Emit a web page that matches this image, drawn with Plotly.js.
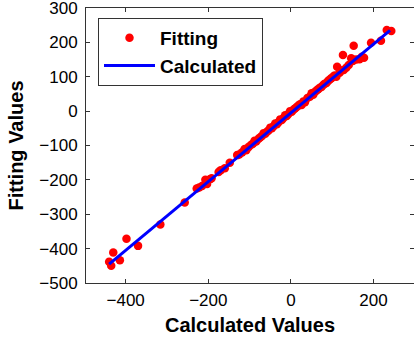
<!DOCTYPE html>
<html>
<head>
<meta charset="utf-8">
<script src="https://cdn.plot.ly/plotly-3.0.1.min.js"></script>
<style>html,body{margin:0;padding:0;background:#fff;}#chart{width:414px;height:341px;}</style>
</head>
<body>
<div id="chart"></div>
<script>
// Fitting points: calculated value (x) vs fitting value (y)
const calculated = [-440,-435,-430,-414,-398,-370,-316,-257,-228,-222,-215,-207,-203,-196,-192,-175,-170,-160,-148,-130,-125,-118,-112,-108,-102,-96,-92,-88,-84,-78,-74,-70,-66,-62,-58,-54,-50,-46,-42,-38,-34,-30,-26,-22,-18,-14,-10,-6,-2,2,6,10,14,18,22,26,30,34,40,46,50,54,58,62,66,70,74,78,82,86,90,94,98,102,106,110,112,118,122,126,128,134,140,146,150,152,158,166,172,177,194,218,232,243];
const fitting = [-438,-450,-411,-434,-371,-392,-330,-266,-225,-222,-218,-200,-212,-198,-195,-177,-172,-166,-150,-128,-126,-120,-110,-114,-104,-98,-95,-86,-88,-80,-76,-72,-64,-66,-60,-56,-48,-50,-44,-36,-38,-32,-24,-26,-20,-12,-14,-8,0,-2,4,8,12,16,20,18,28,26,38,42,52,48,56,60,64,68,70,76,80,82,88,92,96,100,104,100,129,112,118,163,120,126,134,154,146,190,150,151,158,155,199,205,236,233];
// Calculated line end points
const lineX = [-440, 240];
const lineY = [-445, 235];
const xTicks = [-400, -200, 0, 200];
const yTicks = [-500, -400, -300, -200, -100, 0, 100, 200, 300];

const font = "Arial, 'Liberation Sans', sans-serif";
const traces = [
  {x: calculated, y: fitting, mode: 'markers', type: 'scatter', name: 'Fitting',
   marker: {color: '#ff0000', size: 8.5}},
  {x: lineX, y: lineY, mode: 'lines', type: 'scatter', name: 'Calculated',
   line: {color: '#0000ff', width: 3}}
];
const axisCommon = {
  showgrid: false, zeroline: false, showline: true, mirror: 'ticks',
  linecolor: '#333', linewidth: 1, ticks: 'inside', ticklen: 4, tickcolor: '#333',
  ticklabeloverflow: 'allow',
  tickfont: {family: font, size: 17, color: '#000'}
};
const layout = {
  width: 414, height: 341,
  margin: {l: 86, r: 0, t: 8, b: 58},
  paper_bgcolor: '#fff', plot_bgcolor: '#fff',
  showlegend: true,
  legend: {x: 0.0366, y: 0.9636, xanchor: 'left', yanchor: 'top',
    bordercolor: '#333', borderwidth: 1, bgcolor: '#fff',
    font: {family: font, size: 19, color: '#000', weight: 'bold'}, itemwidth: 51},
  xaxis: Object.assign({}, axisCommon, {range: [-496, 298], tickvals: xTicks, ticklabelstandoff: 2,
    title: {text: '<b>Calculated Values</b>', font: {family: font, size: 20, color: '#000'}, standoff: 8}}),
  yaxis: Object.assign({}, axisCommon, {range: [-500.01, 300.01], tickvals: yTicks, ticklabelstandoff: 4,
    title: {text: '<b>Fitting Values</b>', font: {family: font, size: 20, color: '#000'}, standoff: 10}})
};
Plotly.newPlot('chart', traces, layout, {displayModeBar: false, staticPlot: true});
</script>
</body>
</html>
